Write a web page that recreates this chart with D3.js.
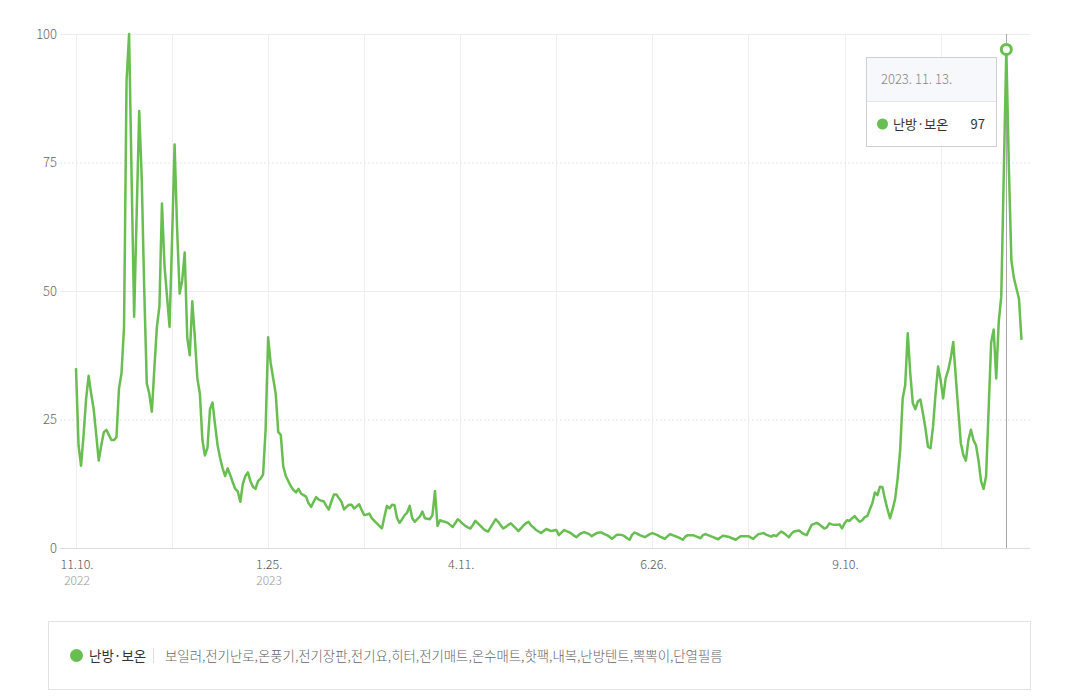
<!DOCTYPE html>
<html>
<head>
<meta charset="utf-8">
<script src="https://cdn.jsdelivr.net/npm/d3@7"></script>
<style>
  html, body { margin: 0; padding: 0; background: #fff; }
  svg { display: block; font-family: "Noto Sans CJK KR", "Noto Sans", sans-serif; }
</style>
</head>
<body>
<svg id="chart" width="1077" height="700"></svg>
<script>
// ---- data ----
const seriesName = "난방·보온";
const seriesKeywords = "보일러,전기난로,온풍기,전기장판,전기요,히터,전기매트,온수매트,핫팩,내복,난방텐트,뽁뽁이,단열필름";
const startDate = "2022-11-10";
const endDate = "2023-11-19";
// daily values, one per day from startDate
const values = [
  35, 20, 16, 22, 29, 33.5, 30, 27, 22, 17,
  20, 22.5, 23, 22, 21, 21, 21.5, 31, 34, 43,
  91, 100, 72, 45, 65, 85, 72, 50, 32, 30,
  26.5, 35, 43, 47, 67, 55, 49, 43, 60, 78.5,
  62, 49.5, 52, 57.5, 41, 37.5, 48, 41, 33, 30,
  21, 18, 19.5, 27, 28.3, 24, 20, 17.5, 15.5, 14,
  15.5, 14.2, 12.8, 11.5, 11, 9, 12.5, 14, 14.7, 13,
  11.9, 11.5, 13, 13.5, 14.3, 23, 41, 36, 33, 30,
  22.6, 22, 15.8, 14, 13, 12, 11.3, 10.8, 11.5, 10.6,
  10.3, 10, 8.7, 8, 9, 9.9, 9.4, 9.2, 9.1, 8.2,
  7.5, 9, 10.4, 10.4, 9.7, 9, 7.5, 8, 8.4, 8.4,
  7.7, 8.1, 8.5, 7.4, 6.4, 6.5, 6.7, 5.8, 5.3, 4.8,
  4.3, 3.8, 6.1, 8.2, 7.7, 8.4, 8.3, 5.8, 4.9, 5.6,
  6.4, 6.9, 8.2, 5.8, 5.1, 5.6, 6.1, 7.1, 5.8, 5.7,
  5.6, 6.4, 11.1, 4.3, 5.4, 5.2, 5.1, 4.9, 4.5, 4.1,
  4.8, 5.6, 5.2, 4.7, 4.3, 4, 3.8, 4.5, 5.3, 4.8,
  4.3, 3.8, 3.4, 3.2, 4, 4.8, 5.6, 5.1, 4.4, 3.8,
  4.1, 4.5, 4.8, 4.3, 3.8, 3.3, 3.8, 4.4, 4.8, 5.1,
  4.4, 4, 3.5, 3.2, 2.9, 3.3, 3.7, 3.5, 3.3, 3.4,
  3.5, 2.5, 3, 3.5, 3.3, 3.1, 2.8, 2.4, 2.1, 2.6,
  2.9, 3.1, 2.9, 2.7, 2.3, 2.6, 2.9, 3, 3, 2.7,
  2.5, 2.2, 1.8, 2.2, 2.6, 2.6, 2.5, 2.3, 1.9, 1.6,
  2.6, 3, 2.8, 2.5, 2.3, 2.1, 2.4, 2.7, 2.9, 2.7,
  2.5, 2.2, 2, 1.8, 2.3, 2.7, 2.5, 2.3, 2.1, 1.9,
  1.6, 2.2, 2.5, 2.5, 2.5, 2.3, 2.1, 1.9, 2.5, 2.7,
  2.5, 2.3, 2.1, 1.9, 1.7, 2.1, 2.4, 2.3, 2.2, 2,
  1.8, 1.6, 2, 2.3, 2.3, 2.3, 2.3, 2, 1.8, 2.3,
  2.7, 2.8, 2.9, 2.6, 2.4, 2.2, 2.5, 2.3, 2.8, 3.2,
  2.9, 2.5, 2.1, 2.8, 3.2, 3.3, 3.4, 3, 2.7, 2.5,
  3.5, 4.5, 4.7, 4.9, 4.6, 4.2, 3.8, 4, 4.8, 4.6,
  4.5, 4.5, 4.6, 3.8, 4.8, 5.4, 5.3, 5.8, 6.2, 5.6,
  5.1, 5.4, 6, 6.2, 7.5, 8.7, 10.8, 10.3, 11.9, 11.8,
  9.5, 7.5, 5.8, 7.5, 9.5, 13.5, 19, 29.1, 31.7, 41.8,
  34, 28.2, 27, 28.5, 28.9, 26.2, 23.3, 19.7, 19.4, 23.6,
  30, 35.3, 32.7, 29.1, 33, 34.6, 36.9, 40.1, 33.3, 26.8,
  20.4, 18.1, 17, 21, 23, 21, 20, 17, 13, 11.5,
  14, 27, 40, 42.5, 33, 44, 49, 73, 97, 74,
  56, 52.5, 50.5, 48.5, 40.5
];
const yTicks = [0, 25, 50, 75, 100];
const gridDates = ["2022-11-10","2022-12-18","2023-01-25","2023-03-04","2023-04-11","2023-05-19","2023-06-26","2023-08-03","2023-09-10","2023-10-18"];
const labelDates = ["2022-11-10","2023-01-25","2023-04-11","2023-06-26","2023-09-10"];
const labelText = ["11.10.","1.25.","4.11.","6.26.","9.10."];
const labelYear = ["2022","2023","","",""];
const hoverDate = "2023-11-13";
const hoverLabel = "2023. 11. 13.";

// ---- setup ----
const parse = d3.utcParse("%Y-%m-%d");
const dates = d3.utcDay.range(parse(startDate), d3.utcDay.offset(parse(endDate), 1));
const data = values.map((v, i) => ({ date: dates[i], value: v }));

const color = "#68be50";
const svg = d3.select("#chart");

const x = d3.scaleUtc().domain([parse(startDate), parse(endDate)]).range([76, 1021.5]);
const y = d3.scaleLinear().domain([0, 100]).range([548, 34]);
const gridLeft = 60, gridRight = 1030;

// horizontal grid
svg.append("g").selectAll("line").data(yTicks.filter(d => d > 0)).join("line")
  .attr("x1", gridLeft).attr("x2", gridRight)
  .attr("y1", d => y(d) + 0.5).attr("y2", d => y(d) + 0.5)
  .attr("stroke", d => d % 50 === 0 ? "#ececec" : "#e6e6e6")
  .attr("stroke-dasharray", d => d % 50 === 0 ? null : "2,2");

// vertical grid
svg.append("g").selectAll("line").data(gridDates).join("line")
  .attr("x1", d => Math.round(x(parse(d))) + 0.5).attr("x2", d => Math.round(x(parse(d))) + 0.5)
  .attr("y1", y(100)).attr("y2", y(0))
  .attr("stroke", "#efefef");

// baseline
svg.append("line").attr("x1", gridLeft).attr("x2", gridRight)
  .attr("y1", y(0) + 0.5).attr("y2", y(0) + 0.5).attr("stroke", "#dddddd");

// y labels
svg.append("g").selectAll("text").data(yTicks).join("text")
  .attr("x", 57).attr("y", d => y(d)).attr("dy", "0.35em")
  .attr("text-anchor", "end").attr("font-size", 13).attr("fill", "#666")
  .attr("font-weight", 300)
  .text(d => d);

// x labels
const xl = svg.append("g");
labelDates.forEach((d, i) => {
  const px = x(parse(d));
  xl.append("text").attr("x", px + 1).attr("y", 569).attr("text-anchor", "middle")
    .attr("font-size", 12.5).attr("fill", "#555").attr("font-weight", 300).text(labelText[i]);
  if (labelYear[i]) {
    xl.append("text").attr("x", px + 1).attr("y", 585).attr("text-anchor", "middle")
      .attr("font-size", 12).attr("fill", "#999").attr("font-weight", 300).text(labelYear[i]);
  }
});

// hover line
const hd = data.find(d => +d.date === +parse(hoverDate));
svg.append("line").attr("x1", Math.round(x(hd.date)) + 0.5).attr("x2", Math.round(x(hd.date)) + 0.5)
  .attr("y1", y(100)).attr("y2", y(0)).attr("stroke", "#a8a8a8");

// line
const line = d3.line().x(d => x(d.date)).y(d => y(d.value)).curve(d3.curveLinear);
svg.append("path").datum(data).attr("d", line)
  .attr("fill", "none").attr("stroke", color).attr("stroke-width", 2.5)
  .attr("stroke-linejoin", "round");

// hover marker
svg.append("circle").attr("cx", x(hd.date)).attr("cy", y(hd.value)).attr("r", 5)
  .attr("fill", "#fff").attr("stroke", color).attr("stroke-width", 3);

// tooltip
const tt = svg.append("g").attr("transform", "translate(866,57)");
tt.append("rect").attr("x", 0.5).attr("y", 0.5).attr("width", 130).attr("height", 89)
  .attr("fill", "#fff").attr("stroke", "#cfcfcf");
tt.append("rect").attr("x", 1).attr("y", 1).attr("width", 129).attr("height", 43).attr("fill", "#f7f8fc");
tt.append("line").attr("x1", 1).attr("x2", 130).attr("y1", 44.5).attr("y2", 44.5).attr("stroke", "#e6e6e6");
tt.append("text").attr("x", 15).attr("y", 27).attr("font-size", 13).attr("fill", "#888")
  .attr("font-weight", 300).text(hoverLabel);
tt.append("circle").attr("cx", 16.5).attr("cy", 67).attr("r", 5.5).attr("fill", color);
tt.append("text").attr("x", 27).attr("y", 71.5).attr("font-size", 13).attr("fill", "#333").text(seriesName);
tt.append("text").attr("x", 119).attr("y", 71.5).attr("text-anchor", "end").attr("font-size", 13)
  .attr("fill", "#333").text(Math.round(hd.value));

// legend
const lg = svg.append("g");
lg.append("rect").attr("x", 48.5).attr("y", 621.5).attr("width", 982).attr("height", 68)
  .attr("fill", "#fff").attr("stroke", "#e3e3e3");
lg.append("circle").attr("cx", 76.5).attr("cy", 655.5).attr("r", 6.5).attr("fill", color);
lg.append("text").attr("x", 89).attr("y", 660.5).attr("font-size", 13.5).attr("fill", "#333").text(seriesName);
lg.append("line").attr("x1", 153.5).attr("x2", 153.5).attr("y1", 648).attr("y2", 663).attr("stroke", "#dcdcdc");
lg.append("text").attr("x", 165).attr("y", 660.5).attr("font-size", 13.4).attr("fill", "#666")
  .attr("font-weight", 300).text(seriesKeywords);
</script>
</body>
</html>
